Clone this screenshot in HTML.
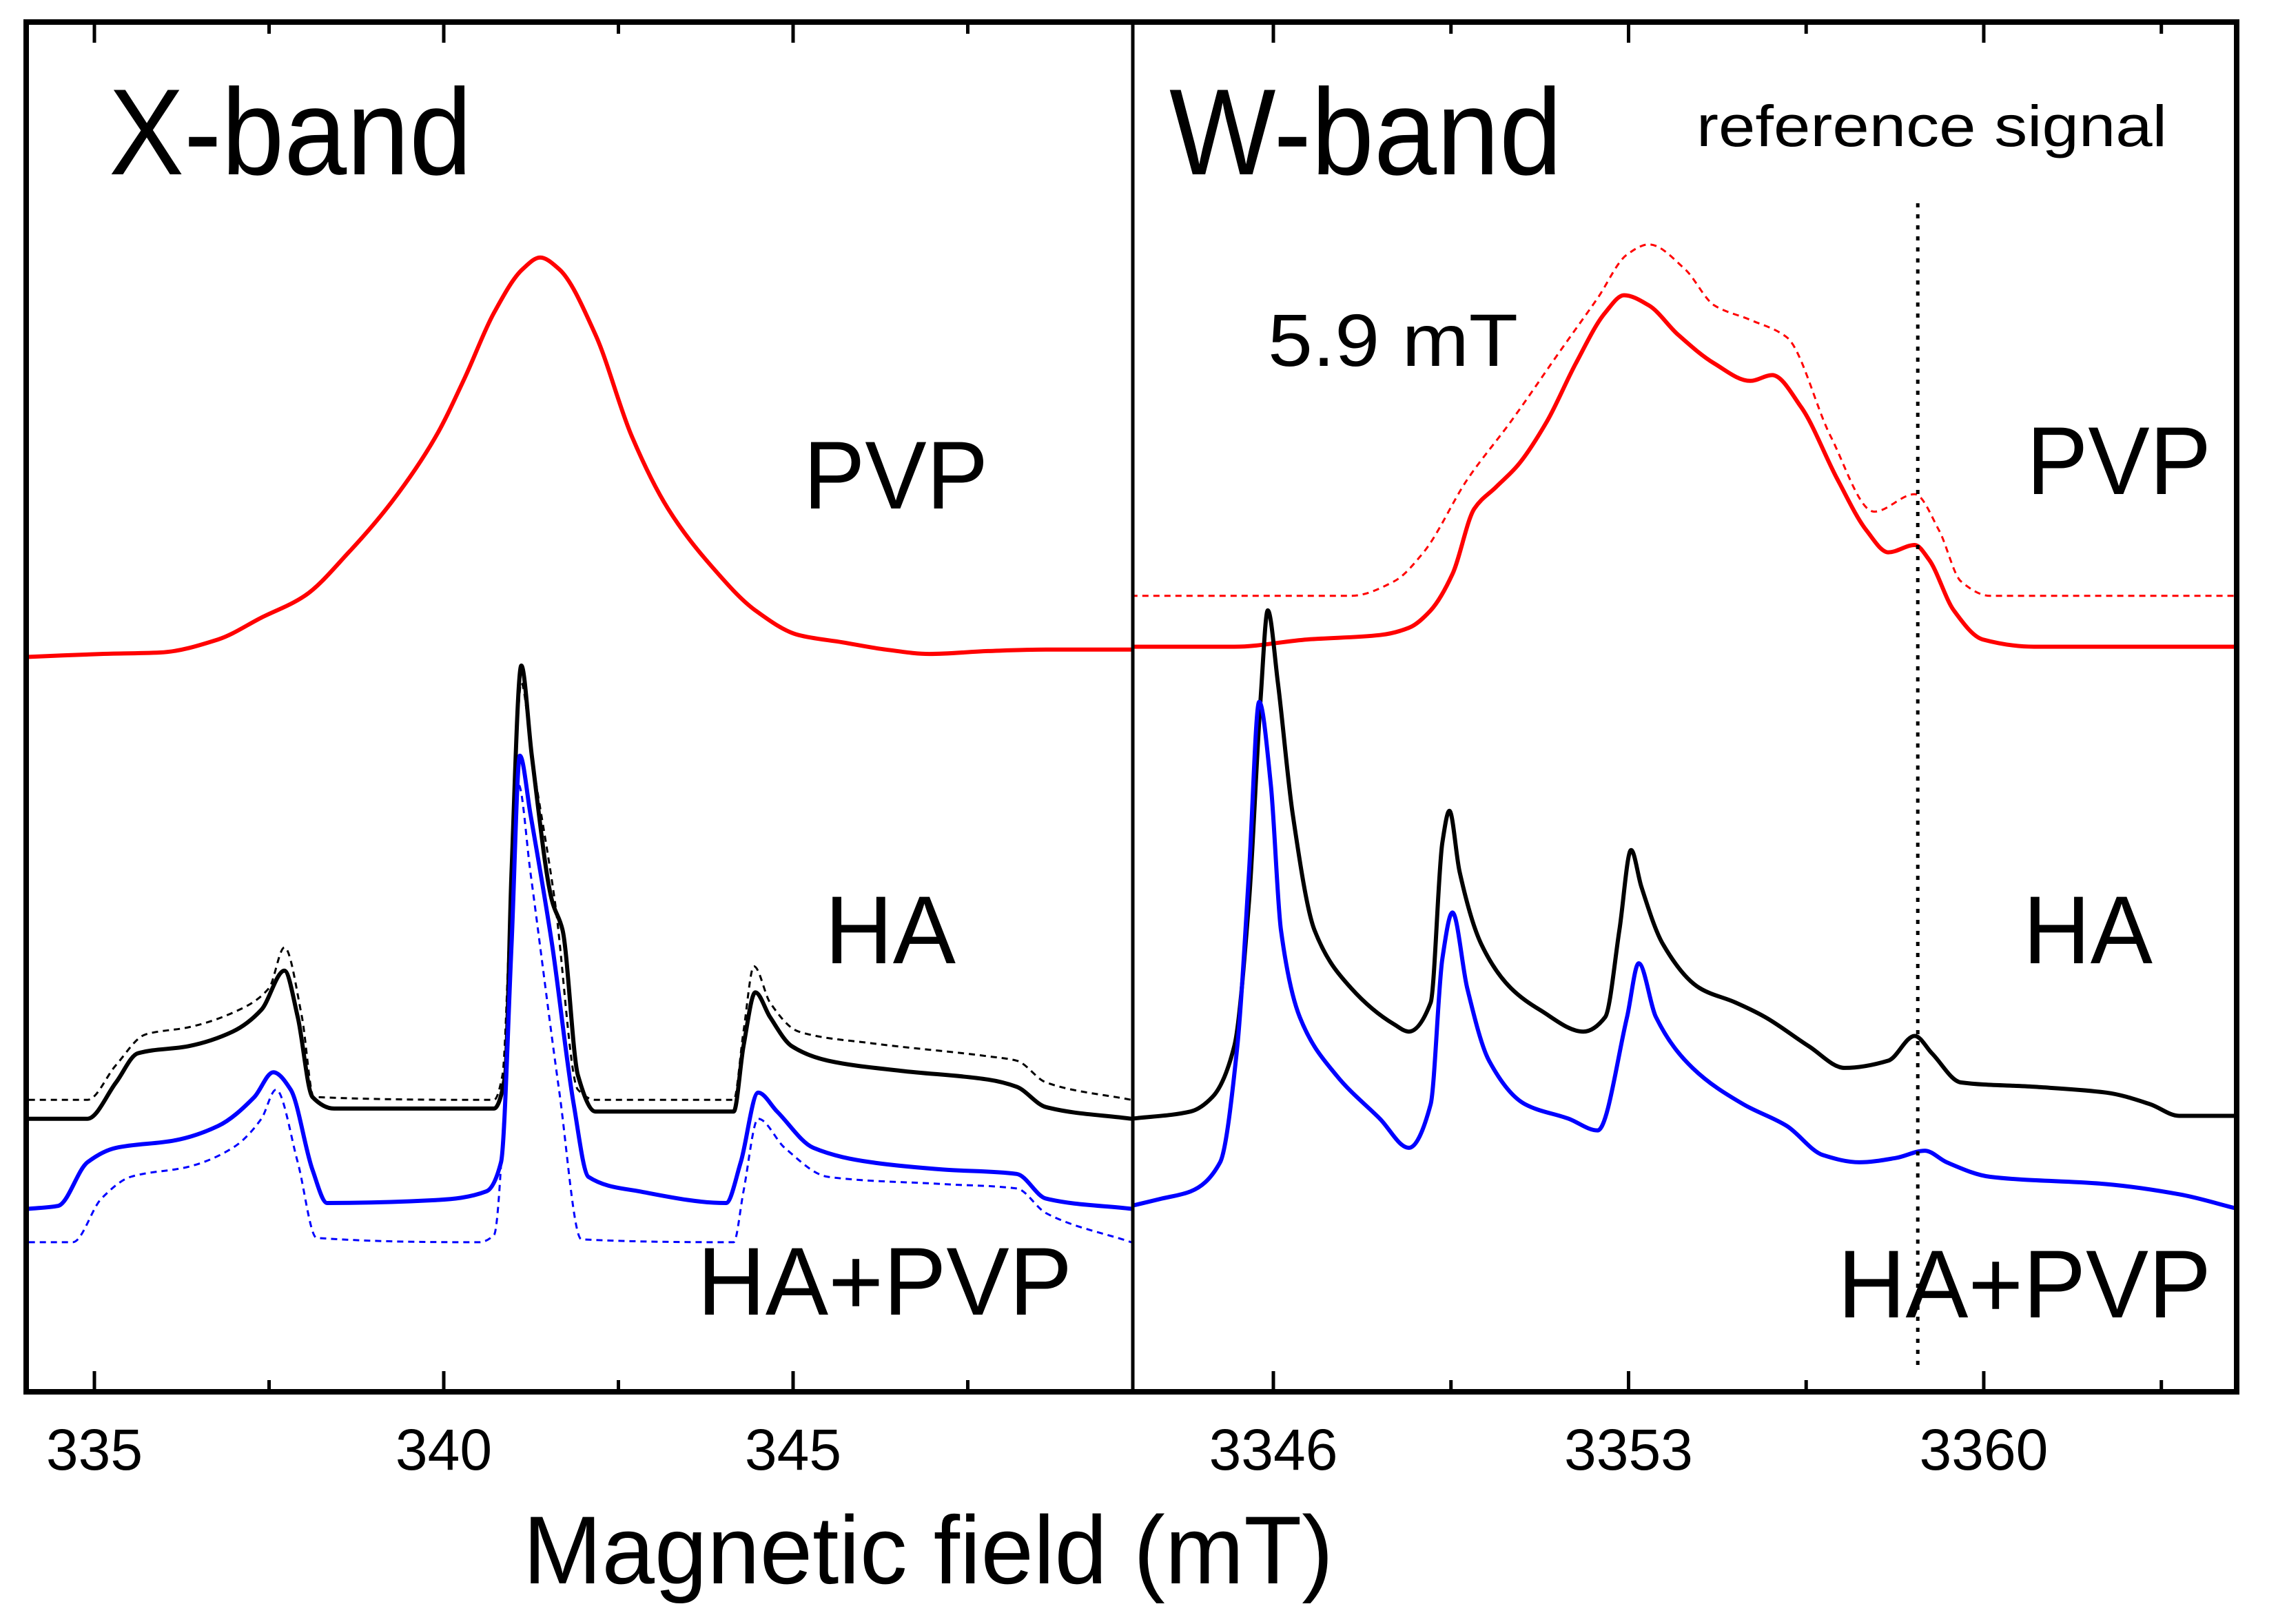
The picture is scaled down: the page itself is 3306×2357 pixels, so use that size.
<!DOCTYPE html>
<html><head><meta charset="utf-8"><style>
html,body{margin:0;padding:0;background:#fff}
svg{display:block}
text{font-family:"Liberation Sans",Arial,sans-serif;fill:#000}
</style></head><body>
<svg id="chart" width="3306" height="2357" viewBox="0 0 3306 2357" xmlns="http://www.w3.org/2000/svg">
<defs>
<clipPath id="clipX"><rect x="38" y="32" width="1604" height="1988"/></clipPath>
<clipPath id="clipW"><rect x="1646" y="32" width="1600" height="1988"/></clipPath>
</defs>
<g id="curves-x" clip-path="url(#clipX)"></g>
<g id="curves-w" clip-path="url(#clipW)"></g>
<g id="axes"></g>
<rect x="38" y="32" width="3208" height="1988" fill="none" stroke="#000" stroke-width="8"/>
<line x1="1644" y1="32" x2="1644" y2="2020" stroke="#000" stroke-width="5"/>
<text x="158" y="253" font-size="178" textLength="527" lengthAdjust="spacingAndGlyphs">X-band</text>
<text x="1697" y="253" font-size="178" textLength="570" lengthAdjust="spacingAndGlyphs">W-band</text>
<text x="2462" y="212" font-size="84" textLength="683" lengthAdjust="spacingAndGlyphs">reference signal</text>
<text x="1840" y="531" font-size="108" textLength="363" lengthAdjust="spacingAndGlyphs">5.9 mT</text>
<text x="1166" y="738" font-size="140" textLength="268" lengthAdjust="spacingAndGlyphs">PVP</text>
<text x="1197" y="1398" font-size="140" textLength="190" lengthAdjust="spacingAndGlyphs">HA</text>
<text x="1012" y="1908" font-size="140" textLength="544" lengthAdjust="spacingAndGlyphs">HA+PVP</text>
<text x="2941" y="717" font-size="140" textLength="268" lengthAdjust="spacingAndGlyphs">PVP</text>
<text x="2936" y="1398" font-size="140" textLength="188" lengthAdjust="spacingAndGlyphs">HA</text>
<text x="2667" y="1912" font-size="140" textLength="542" lengthAdjust="spacingAndGlyphs">HA+PVP</text>
<text x="759" y="2298" font-size="140" textLength="1176" lengthAdjust="spacingAndGlyphs">Magnetic field (mT)</text>
</svg>
<script>
// ---- data ----
const xTicksMajor = [335, 340, 345];
const xTicksMinor = [337.5, 342.5, 347.5];
const wTicksMajor = [3346, 3353, 3360];
const wTicksMinor = [3349.5, 3356.5, 3363.5];
const refField = 3358.7;

const xPvpField = [334.06,335.10,335.94,336.77,337.39,338.01,338.64,339.26,339.89,340.30,340.72,341.13,341.38,341.65,342.17,342.69,343.21,343.84,344.46,345.08,345.71,346.33,346.95,347.79,348.62,349.84];
const xPvpVal = [506,508,509,518,533,548,578,613,658,698,743,773,781,773,728,658,608,568,538,521,516,511,508,510,511,511];

const xHaField = [334.06,334.90,335.31,335.62,336.35,336.98,337.39,337.72,337.91,338.12,338.43,340.72,340.88,340.97,341.11,341.26,341.55,341.70,341.92,342.17,344.15,344.29,344.46,344.67,344.98,345.50,346.54,347.79,348.20,348.62,349.84];
const xHaVal = [188,188,213,233,238,248,263,290,258,203,195,195,218,358,500,438,338,318,218,193,193,238,275,258,238,228,221,215,210,196,188];

const xHaSimField = [334.06,334.90,335.31,335.73,336.35,336.98,337.50,337.72,337.97,338.14,340.72,340.84,340.97,341.11,341.26,341.59,341.92,342.17,344.15,344.29,344.44,344.67,345.08,346.12,347.79,348.20,348.62,349.84];
const xHaSimVal = [201,201,225,246,251,261,278,306,258,203,201,218,358,488,438,338,208,201,201,248,293,268,248,240,231,228,213,201];

const xMixField = [334.06,334.48,334.90,335.31,336.14,336.77,337.29,337.56,337.81,338.12,338.33,339.89,340.61,340.82,340.97,341.09,341.24,341.55,341.86,342.07,342.80,344.04,344.25,344.50,344.77,345.29,346.12,347.16,348.20,348.62,349.84];
const xMixVal = [126,128,158,168,173,183,203,220,208,153,130,132,138,158,308,438,398,308,198,148,138,130,158,206,193,168,158,153,150,133,126];

const xMixSimField = [334.06,334.69,335.10,335.52,336.35,336.98,337.39,337.60,337.91,338.18,340.51,340.72,340.93,341.07,341.24,341.65,341.97,344.15,344.29,344.50,344.88,345.50,347.16,348.20,348.62,349.84];
const xMixSimVal = [103,103,133,148,155,168,188,208,158,106,103,108,258,418,358,208,105,103,138,188,168,148,143,140,123,103];

const wPvpField = [3343.20,3345.23,3346.67,3348.10,3348.67,3349.10,3349.53,3349.96,3350.39,3350.82,3351.39,3351.96,3352.54,3352.91,3353.40,3353.97,3354.69,3355.40,3355.83,3356.40,3357.12,3357.69,3358.12,3358.64,3358.92,3359.41,3359.98,3360.99,3365.00];
const wPvpVal = [513,513,518,521,526,538,563,608,623,638,668,708,743,755,748,728,708,696,700,678,628,593,578,583,573,538,518,513,513];

const wPvpSimField = [3343.20,3347.53,3348.38,3348.96,3349.82,3350.68,3351.68,3352.39,3352.97,3353.40,3354.11,3354.69,3355.40,3356.12,3356.98,3357.84,3358.64,3359.12,3359.55,3360.13,3365.00];
const wPvpSimVal = [548,548,558,578,628,668,718,753,783,790,773,748,738,726,658,606,618,593,558,548,548];

const wHaField = [3343.20,3344.37,3344.80,3345.23,3345.52,3345.75,3345.89,3346.09,3346.38,3346.81,3347.53,3348.38,3348.67,3349.10,3349.33,3349.47,3349.67,3350.10,3350.68,3351.25,3352.11,3352.54,3352.82,3353.05,3353.25,3353.68,3354.40,3355.11,3355.69,3356.55,3357.26,3358.12,3358.64,3358.98,3359.55,3360.99,3362.42,3363.28,3363.85,3365.00];
const wHaVal = [188,193,203,238,338,478,538,488,398,318,278,253,248,268,378,400,358,308,278,263,248,258,318,373,348,308,278,268,258,238,223,228,245,233,213,210,206,198,190,190];

const wMixField = [3343.20,3343.80,3344.37,3344.95,3345.29,3345.52,3345.72,3345.95,3346.15,3346.52,3347.24,3348.10,3348.67,3349.10,3349.33,3349.53,3349.82,3350.25,3350.96,3351.82,3352.39,3352.97,3353.20,3353.54,3354.26,3355.26,3356.12,3356.83,3357.55,3358.27,3358.84,3359.27,3360.13,3362.42,3363.85,3365.00];
const wMixVal = [128,133,138,158,238,358,475,418,318,258,218,188,168,198,298,330,278,228,198,188,180,258,295,258,223,198,183,163,158,161,166,158,148,143,136,126];

// ---- scales ----
function sx(f){ return 137 + (f - 335) * 101.4; }
function sw(f){ return 1848 + (f - 3346) * 73.64; }
function sy(v){ return 2020 - v * 2.108; }

const NS = 'http://www.w3.org/2000/svg';
// monotone cubic (Fritsch-Carlson) path, no overshoot
function monotonePath(pts){
  const n = pts.length;
  const dx = [], s = [];
  for (let i = 0; i < n-1; i++){ dx[i] = pts[i+1][0]-pts[i][0]; s[i] = (pts[i+1][1]-pts[i][1])/dx[i]; }
  const m = [s[0]];
  for (let i = 1; i < n-1; i++){
    if (s[i-1]*s[i] <= 0) m[i] = 0;
    else { const w1 = 2*dx[i]+dx[i-1], w2 = dx[i]+2*dx[i-1]; m[i] = (w1+w2)/(w1/s[i-1]+w2/s[i]); }
  }
  m[n-1] = s[n-2];
  let d = 'M' + pts[0][0].toFixed(1) + ',' + pts[0][1].toFixed(1);
  for (let i = 0; i < n-1; i++){
    const h = dx[i]/3;
    d += ' C' + (pts[i][0]+h).toFixed(1)+','+(pts[i][1]+m[i]*h).toFixed(1)+' '+(pts[i+1][0]-h).toFixed(1)+','+(pts[i+1][1]-m[i+1]*h).toFixed(1)+' '+pts[i+1][0].toFixed(1)+','+pts[i+1][1].toFixed(1);
  }
  return d;
}
function drawLine(parentId, xs, ys, scaleX, color, width, dash, name){
  const pts = xs.map((f,i)=>[scaleX(f), sy(ys[i])]);
  const p = document.createElementNS(NS, 'path');
  p.setAttribute('d', monotonePath(pts));
  p.setAttribute('fill','none');
  p.setAttribute('stroke',color);
  p.setAttribute('stroke-width',width);
  p.setAttribute('stroke-linejoin','round');
  if(dash) p.setAttribute('stroke-dasharray',dash);
  
  
  document.getElementById(parentId).appendChild(p);
}
drawLine('curves-x', xPvpField, xPvpVal, sx, '#ff0000', 6, null, 'x-pvp-curve');
drawLine('curves-x', xHaSimField, xHaSimVal, sx, '#000', 3, '9,7', 'x-ha-sim-curve');
drawLine('curves-x', xHaField, xHaVal, sx, '#000', 6, null, 'x-ha-curve');
drawLine('curves-x', xMixSimField, xMixSimVal, sx, '#0000ff', 3, '9,7', 'x-ha-pvp-sim-curve');
drawLine('curves-x', xMixField, xMixVal, sx, '#0000ff', 6, null, 'x-ha-pvp-curve');
drawLine('curves-w', wPvpSimField, wPvpSimVal, sw, '#ff0000', 3, '9,7', 'w-pvp-sim-curve');
drawLine('curves-w', wPvpField, wPvpVal, sw, '#ff0000', 6, null, 'w-pvp-curve');
drawLine('curves-w', wHaField, wHaVal, sw, '#000', 6, null, 'w-ha-curve');
drawLine('curves-w', wMixField, wMixVal, sw, '#0000ff', 6, null, 'w-ha-pvp-curve');

// reference dotted line
const ref = document.createElementNS(NS,'line');
ref.setAttribute('x1', sw(refField)); ref.setAttribute('x2', sw(refField));
ref.setAttribute('y1', 295); ref.setAttribute('y2', 1985);
ref.setAttribute('stroke','#000'); ref.setAttribute('stroke-width','5');
ref.setAttribute('stroke-dasharray','6,10');


document.getElementById('axes').appendChild(ref);

// ticks
const axes = document.getElementById('axes');
function tick(x, len, name){
  [[2020, 2020-len],[32, 32+len]].forEach(([a,b])=>{
    const l = document.createElementNS(NS,'line');
    l.setAttribute('x1',x); l.setAttribute('x2',x);
    l.setAttribute('y1',a); l.setAttribute('y2',b);
    l.setAttribute('stroke','#000'); l.setAttribute('stroke-width','5');
    
    
    axes.appendChild(l);
  });
}
function label(x, txt){
  const t = document.createElementNS(NS,'text');
  t.setAttribute('x', x); t.setAttribute('y', 2133);
  t.setAttribute('font-size','84'); t.setAttribute('text-anchor','middle');
  t.textContent = txt;
  
  
  axes.appendChild(t);
}
xTicksMajor.forEach(f=>{ tick(sx(f), 30, 'x-major-tick'); label(sx(f), String(f)); });
xTicksMinor.forEach(f=>{ tick(sx(f), 17, 'x-minor-tick'); });
wTicksMajor.forEach(f=>{ tick(sw(f), 30, 'w-major-tick'); label(sw(f), String(f)); });
wTicksMinor.forEach(f=>{ tick(sw(f), 17, 'w-minor-tick'); });
</script>
</body></html>
